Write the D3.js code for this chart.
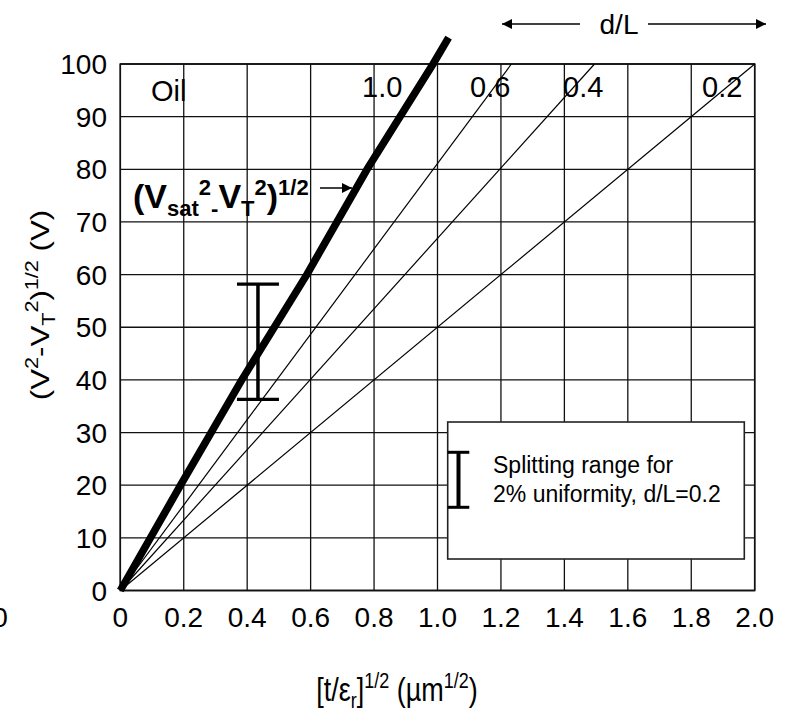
<!DOCTYPE html>
<html><head><meta charset="utf-8">
<script src="https://cdn.jsdelivr.net/npm/d3@7/dist/d3.min.js"></script>
<style>
html,body{margin:0;padding:0;background:#fff;}
svg{display:block;font-family:"Liberation Sans",Arial,sans-serif;}
</style></head>
<body>
<svg id="chart" width="794" height="712"></svg>
<script>
// ---- data ----
const xTickValues = [0, 0.2, 0.4, 0.6, 0.8, 1.0, 1.2, 1.4, 1.6, 1.8, 2.0];
const xTickLabels = ["0", "0.2", "0.4", "0.6", "0.8", "1.0", "1.2", "1.4", "1.6", "1.8", "2.0"];
const yTickValues = [0, 10, 20, 30, 40, 50, 60, 70, 80, 90, 100];
const yTickLabels = ["0", "10", "20", "30", "40", "50", "60", "70", "80", "90", "100"];
// thick line (V_sat^2 - V_T^2)^1/2, d/L = 1.0
const thickX = [0, 0.19, 0.383, 0.588, 0.778, 0.986, 1.035];
const thickY = [0, 20, 40, 60, 80, 100, 105];
// thin lines for d/L = 0.6, 0.4, 0.2 (end at top of frame)
const thinLabels = ["0.6", "0.4", "0.2"];
const thinEndX = [1.233, 1.495, 2.0];
const thinEndY = [100, 100, 100];
// splitting range error bar (d/L = 0.2, 2% uniformity)
const barX = 0.434;
const barLow = 36.3;
const barHigh = 58.2;

const svg = d3.select("#chart");
const x = d3.scaleLinear().domain([0, 2]).range([120.3, 754.7]);
const y = d3.scaleLinear().domain([0, 100]).range([590.5, 64]);
const ink = "#111";

// grid
const g = svg.append("g");
g.selectAll("line.vx").data(xTickValues).join("line")
  .attr("x1", d => x(d)).attr("x2", d => x(d))
  .attr("y1", y(0)).attr("y2", y(100))
  .attr("stroke", ink).attr("stroke-width", 1.3);
g.selectAll("line.hy").data(yTickValues).join("line")
  .attr("x1", x(0)).attr("x2", x(2))
  .attr("y1", d => y(d)).attr("y2", d => y(d))
  .attr("stroke", ink).attr("stroke-width", 1.3);
g.append("rect").attr("x", x(0)).attr("y", y(100))
  .attr("width", x(2) - x(0)).attr("height", y(0) - y(100))
  .attr("fill", "none").attr("stroke", ink).attr("stroke-width", 1.6);

// tick labels
svg.selectAll("text.xt").data(xTickValues).join("text")
  .attr("x", d => x(d)).attr("y", 627)
  .attr("text-anchor", "middle").attr("font-size", 28).attr("fill", "#000")
  .text((d, i) => xTickLabels[i]);
svg.append("text").attr("x", 0).attr("y", 627)
  .attr("text-anchor", "middle").attr("font-size", 28).text(xTickLabels[0]);
svg.selectAll("text.yt").data(yTickValues).join("text")
  .attr("x", 107).attr("y", d => y(d) + 10)
  .attr("text-anchor", "end").attr("font-size", 28).attr("fill", "#000")
  .text((d, i) => yTickLabels[i]);

// thin lines
const lineGen = d3.line().x(d => x(d[0])).y(d => y(d[1]));
thinEndX.forEach((ex, i) => {
  svg.append("path").attr("d", lineGen([[0, 0], [ex, thinEndY[i]]]))
    .attr("fill", "none").attr("stroke", "#000").attr("stroke-width", 1.2);
});
// thick line
svg.append("path").attr("d", lineGen(thickX.map((v, i) => [v, thickY[i]])))
  .attr("fill", "none").attr("stroke", "#000").attr("stroke-width", 7.5)
  .attr("stroke-linejoin", "round");

// error bar
svg.append("line").attr("x1", x(barX)).attr("x2", x(barX))
  .attr("y1", y(barLow)).attr("y2", y(barHigh)).attr("stroke", "#000").attr("stroke-width", 3.5);
[barLow, barHigh].forEach(v => {
  svg.append("line").attr("x1", x(barX) - 21).attr("x2", x(barX) + 21)
    .attr("y1", y(v)).attr("y2", y(v)).attr("stroke", "#000").attr("stroke-width", 3.3);
});

// in-plot labels
svg.append("text").attr("x", 151).attr("y", 101).attr("font-size", 29).text("Oil");
svg.append("text").attr("x", 362).attr("y", 97).attr("font-size", 29).text("1.0");
const thinLabelX = [470, 563, 702];
thinLabels.forEach((t, i) => {
  svg.append("text").attr("x", thinLabelX[i]).attr("y", 97).attr("font-size", 29).text(t);
});

// d/L with arrows
svg.append("defs").append("marker").attr("id", "ah")
  .attr("viewBox", "0 0 10 10").attr("refX", 10).attr("refY", 5)
  .attr("markerWidth", 11).attr("markerHeight", 10).attr("markerUnits", "userSpaceOnUse")
  .attr("orient", "auto-start-reverse")
  .append("path").attr("d", "M0,0 L10,5 L0,10 Z").attr("fill", "#000");
svg.append("text").attr("x", 619).attr("y", 34).attr("text-anchor", "middle")
  .attr("font-size", 28).text("d/L");
svg.append("line").attr("x1", 580).attr("x2", 502).attr("y1", 24).attr("y2", 24)
  .attr("stroke", "#000").attr("stroke-width", 1.5).attr("marker-end", "url(#ah)");
svg.append("line").attr("x1", 648).attr("x2", 766).attr("y1", 24).attr("y2", 24)
  .attr("stroke", "#000").attr("stroke-width", 1.5).attr("marker-end", "url(#ah)");

// bold label with arrow
const bl = svg.append("text").attr("x", 133).attr("y", 208).attr("font-size", 34)
  .attr("font-weight", "bold");
bl.append("tspan").text("(V");
bl.append("tspan").attr("font-size", 22).attr("dy", 8).text("sat");
bl.append("tspan").attr("font-size", 22).attr("dy", -21).text("2");
bl.append("tspan").attr("font-size", 22).attr("dy", 21).text("-");
bl.append("tspan").attr("dy", -8).text("V");
bl.append("tspan").attr("font-size", 22).attr("dy", 8).text("T");
bl.append("tspan").attr("font-size", 22).attr("dy", -21).text("2");
bl.append("tspan").attr("dy", 13).text(")");
bl.append("tspan").attr("font-size", 22).attr("dy", -13).text("1/2");
svg.append("line").attr("x1", 320).attr("x2", 352).attr("y1", 188).attr("y2", 188)
  .attr("stroke", "#000").attr("stroke-width", 1.5).attr("marker-end", "url(#ah)");

// legend box
svg.append("rect").attr("x", 447.7).attr("y", 422).attr("width", 296.6).attr("height", 137)
  .attr("fill", "#fff").attr("stroke", "#222").attr("stroke-width", 1.6);
svg.append("line").attr("x1", 458.5).attr("x2", 458.5).attr("y1", 452.3).attr("y2", 507.3)
  .attr("stroke", "#000").attr("stroke-width", 4);
[452.3, 507.3].forEach(v => {
  svg.append("line").attr("x1", 447.7).attr("x2", 469.3).attr("y1", v).attr("y2", v)
    .attr("stroke", "#000").attr("stroke-width", 3);
});
svg.append("text").attr("x", 493).attr("y", 473).attr("font-size", 23).text("Splitting range for");
svg.append("text").attr("x", 493).attr("y", 502).attr("font-size", 23).text("2% uniformity, d/L=0.2");

// axis titles
const xt = svg.append("text").attr("transform", "translate(397,701) scale(1,1.2)")
  .attr("text-anchor", "middle").attr("font-size", 27);
xt.append("tspan").text("[t/ε");
xt.append("tspan").attr("font-size", 18).attr("dy", 6).text("r");
xt.append("tspan").attr("dy", -6).text("]");
xt.append("tspan").attr("font-size", 18).attr("dy", -11).text("1/2");
xt.append("tspan").attr("dy", 11).text(" (µm");
xt.append("tspan").attr("font-size", 18).attr("dy", -11).text("1/2");
xt.append("tspan").attr("dy", 11).text(")");

const yt = svg.append("text").attr("transform", "translate(49,305) rotate(-90) scale(1.2,1)")
  .attr("text-anchor", "middle").attr("font-size", 26);
yt.append("tspan").text("(V");
yt.append("tspan").attr("font-size", 18).attr("dy", -11).text("2");
yt.append("tspan").attr("dy", 11).text("-V");
yt.append("tspan").attr("font-size", 18).attr("dy", 6).text("T");
yt.append("tspan").attr("font-size", 18).attr("dy", -17).text("2");
yt.append("tspan").attr("dy", 11).text(")");
yt.append("tspan").attr("font-size", 18).attr("dy", -11).text("1/2");
yt.append("tspan").attr("dy", 11).text(" (V)");
</script>
</body></html>
